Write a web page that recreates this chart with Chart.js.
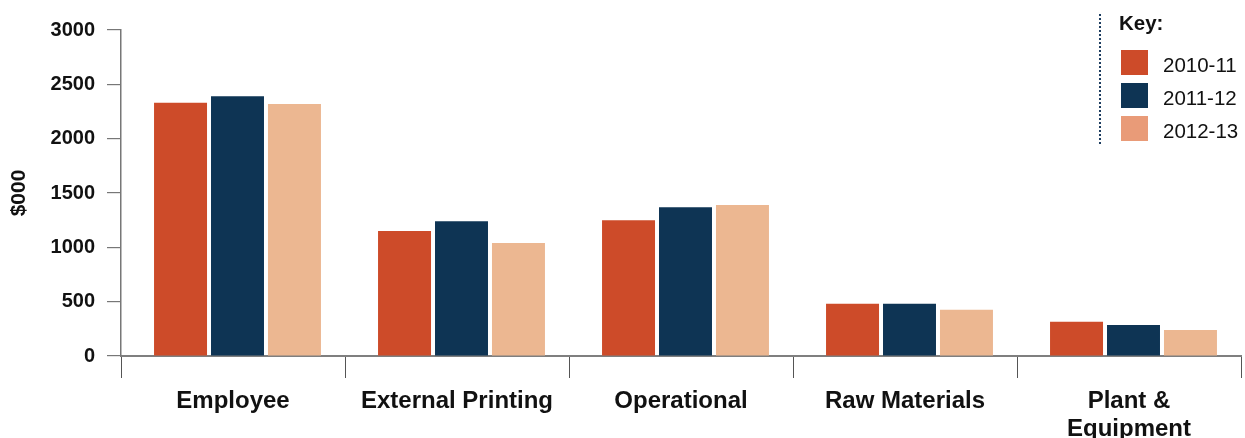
<!DOCTYPE html>
<html>
<head>
<meta charset="utf-8">
<script src="https://cdn.jsdelivr.net/npm/chart.js@4.4.1/dist/chart.umd.min.js"></script>
<style>
  html, body { margin: 0; padding: 0; background: #fff; }
  #wrap { position: relative; width: 1245px; height: 438px; font-family: "Liberation Sans", Arial, sans-serif; }
  #chart { position: absolute; left: 0; top: 0; }
  #key { position: absolute; left: 1099px; top: 14px; width: 146px; height: 130px; border-left: 2px dotted #1d3d60; }
  #key .title { position: absolute; left: 18px; top: -3px; font-weight: bold; font-size: 20.5px; color: #111; }
  #key .item { position: absolute; left: 20px; height: 25px; }
  #key .sw { position: absolute; left: 0; top: 0; width: 27px; height: 25px; }
  #key .lbl { position: absolute; left: 42px; top: 2px; font-size: 20.5px; color: #111; white-space: nowrap; line-height: 25px; }
</style>
</head>
<body>
<div id="wrap">
  <canvas id="chart" width="1245" height="438"></canvas>
  <div id="key"><div class="title">Key:</div></div>
</div>
<script>
// Spending categories and yearly totals ($000)
const categories = ['Employee', 'External Printing', 'Operational', 'Raw Materials', 'Plant & Equipment'];
const seriesNames = ['2010-11', '2011-12', '2012-13'];
const values2010 = [2330, 1150, 1250, 480, 315];
const values2011 = [2390, 1240, 1370, 480, 285];
const values2012 = [2320, 1040, 1390, 425, 240];
const yTicks = [0, 500, 1000, 1500, 2000, 2500, 3000];

const barColors = ['#CD4B29', '#0E3454', '#ECB791'];
const keyColors = ['#CD4B29', '#0E3454', '#E99B78'];

// Key panel
const key = document.getElementById('key');
seriesNames.forEach((name, i) => {
  const item = document.createElement('div');
  item.className = 'item';
  item.style.top = (36 + i * 33) + 'px';
  item.innerHTML = '<div class="sw" style="background:' + keyColors[i] + '"></div><div class="lbl">' + name + '</div>';
  key.appendChild(item);
});

// Nudge the bar groups slightly right within each category slot
const barShift = {
  id: 'barShift',
  beforeDatasetsDraw(chart) { chart.ctx.save(); chart.ctx.translate(4.5, 0); },
  afterDatasetsDraw(chart) { chart.ctx.restore(); }
};

const allValues = [values2010, values2011, values2012];

new Chart(document.getElementById('chart'), {
  type: 'bar',
  data: {
    labels: categories,
    datasets: seriesNames.map((name, i) => ({
      label: name,
      data: allValues[i],
      backgroundColor: barColors[i],
      borderWidth: 0,
      categoryPercentage: 0.763,
      barPercentage: 0.93
    }))
  },
  options: {
    responsive: false,
    animation: false,
    devicePixelRatio: 1,
    layout: { padding: { top: 30, right: 4, bottom: 0, left: 0 } },
    plugins: { legend: { display: false }, tooltip: { enabled: false } },
    scales: {
      x: {
        z: 1,
        grid: { display: true, offset: true, drawOnChartArea: false, drawTicks: true, tickLength: 22, color: '#555', lineWidth: 1 },
        border: { display: true, color: 'rgba(0,0,0,0.5)', width: 2 },
        ticks: {
          color: '#111',
          padding: 10,
          autoSkip: false,
          maxRotation: 0,
          font: { family: '"Liberation Sans", Arial, sans-serif', size: 24, weight: 'bold', lineHeight: 1.15 },
          callback(value) {
            const label = this.getLabelForValue(value);
            return label.includes(' & ') ? label.replace(' & ', ' &\n').split('\n') : label;
          }
        },
        afterFit(scale) { scale.height = 82; }
      },
      y: {
        min: 0,
        max: 3000,
        afterBuildTicks(scale) { scale.ticks = yTicks.map(v => ({ value: v })); },
        grid: { display: true, drawOnChartArea: false, drawTicks: true, tickLength: 14, color: '#777', lineWidth: 1.2 },
        border: { display: true, color: '#777', width: 1.5 },
        ticks: {
          color: '#111',
          padding: 12,
          font: { family: '"Liberation Sans", Arial, sans-serif', size: 20, weight: 'bold' },
          callback(value) { return String(value); }
        },
        title: {
          display: true,
          text: '$000',
          color: '#111',
          padding: { top: 7, bottom: 0 },
          font: { family: '"Liberation Sans", Arial, sans-serif', size: 21, weight: 'bold' }
        },
        afterFit(scale) { scale.width = 121; }
      }
    }
  },
  plugins: [barShift]
});
</script>
</body>
</html>
